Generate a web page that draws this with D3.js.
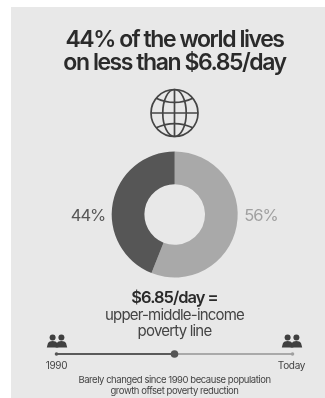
<!DOCTYPE html>
<html>
<head>
<meta charset="utf-8">
<style>
html,body{margin:0;padding:0;background:#fff;}
svg{display:block;}
text{font-family:Inter,"Liberation Sans",sans-serif;text-anchor:middle;}
</style>
<script src="https://cdn.jsdelivr.net/npm/d3@7"></script>
</head>
<body>
<svg id="chart" width="325" height="398"></svg>
<script>
// Share of world population on either side of the poverty line
const shareLabels = ["56%", "44%"];
const shareValues = [56, 44];
const shareColors = ["#a9a9a9", "#575757"];

const titleLines = ["44% of the world lives", "on less than $6.85/day"];
const lineCaption = ["upper-middle-income", "poverty line"];
const footnoteLines = ["Barely changed since 1990 because population", "growth offset poverty reduction"];
const timelineStops = [0, 0.5, 1];
const timelineLabels = ["1990", "", "Today"];

const svg = d3.select("#chart");
const defs = svg.append("defs");
defs.append("filter").attr("id", "soft").append("feGaussianBlur").attr("stdDeviation", 0.45);

svg.append("rect").attr("x", 11).attr("y", 7).attr("width", 314).attr("height", 391).attr("fill", "#e8e8e8");
const root = svg.append("g").attr("filter", "url(#soft)");

// Headline
root.selectAll("text.title").data(titleLines).join("text").attr("class", "title")
  .attr("x", 174.5).attr("y", (d, i) => 46.5 + i * 23.5)
  .attr("font-size", 23).attr("font-weight", 600).attr("letter-spacing", -1.45)
  .attr("fill", "#2b2b2b").text(d => d);

// Globe icon
const globe = root.append("g").attr("transform", "translate(174.5,113)")
  .attr("fill", "none").attr("stroke", "#444").attr("stroke-width", 1.7);
const R = 23.5;
globe.append("circle").attr("r", R);
globe.append("ellipse").attr("rx", R * 0.5).attr("ry", R);
globe.append("line").attr("y1", -R).attr("y2", R);
globe.append("line").attr("x1", -R).attr("x2", R);
globe.append("path").attr("d", `M${-R * 0.78},${-R * 0.63} Q0,${-R * 0.27} ${R * 0.78},${-R * 0.63}`);
globe.append("path").attr("d", `M${-R * 0.78},${R * 0.63} Q0,${R * 0.27} ${R * 0.78},${R * 0.63}`);

// Donut
const cx = 174.7, cy = 214.5;
const pie = d3.pie().sort(null)(shareValues);
const arc = d3.arc().innerRadius(30.3).outerRadius(63);
root.append("g").attr("transform", `translate(${cx},${cy})`)
  .selectAll("path").data(pie).join("path")
  .attr("d", arc).attr("fill", (d, i) => shareColors[i]);

root.append("text").attr("x", 88).attr("y", 220.5).attr("font-size", 16.5).attr("letter-spacing", -1)
  .attr("fill", "#575757").text(shareLabels[1]);
root.append("text").attr("x", 261).attr("y", 220.5).attr("font-size", 16.5).attr("letter-spacing", -1)
  .attr("fill", "#a0a0a0").text(shareLabels[0]);

// Poverty line caption
root.append("text").attr("x", 174.5).attr("y", 302.5).attr("font-size", 16.5).attr("font-weight", 600)
  .attr("letter-spacing", -1).attr("fill", "#2b2b2b").text("$6.85/day =");
root.selectAll("text.cap").data(lineCaption).join("text").attr("class", "cap")
  .attr("x", 174.5).attr("y", (d, i) => 320 + i * 15.8)
  .attr("font-size", 15).attr("letter-spacing", -0.8).attr("fill", "#444").text(d => d);

// Timeline from 1990 to today
const tx = d3.scaleLinear().domain([0, 1]).range([56.5, 292.5]);
const ty = 354;
root.append("line").attr("x1", tx(0)).attr("x2", tx(0.5)).attr("y1", ty).attr("y2", ty)
  .attr("stroke", "#5a5a5a").attr("stroke-width", 2);
root.append("line").attr("x1", tx(0.5)).attr("x2", tx(1)).attr("y1", ty).attr("y2", ty)
  .attr("stroke", "#a9a9a9").attr("stroke-width", 2);
root.selectAll("circle.stop").data(timelineStops).join("circle").attr("class", "stop")
  .attr("cx", d => tx(d)).attr("cy", ty).attr("r", (d, i) => i === 1 ? 3.8 : 1.8)
  .attr("fill", (d, i) => i === 2 ? "#a0a0a0" : "#555");
root.selectAll("text.stop").data(timelineLabels).join("text").attr("class", "stop")
  .attr("x", (d, i) => i === 0 ? 56.5 : 291.5).attr("y", 368.5)
  .attr("font-size", 10).attr("letter-spacing", -0.3).attr("fill", "#444").text(d => d);

// People icons above each end of the timeline
function people(x, y) {
  const g = root.append("g").attr("transform", `translate(${x},${y})`).attr("fill", "#3f3f3f");
  [-4.4, 4.4].forEach(dx => {
    g.append("circle").attr("cx", dx).attr("cy", -3.4).attr("r", 3);
    g.append("path").attr("d", `M${dx - 5.8},6.5 L${dx - 4.6},2 Q${dx - 3.5},0 ${dx},0 Q${dx + 3.5},0 ${dx + 4.6},2 L${dx + 5.8},6.5 Z`);
  });
}
people(57, 341);
people(292, 341);

// Footnote
root.selectAll("text.note").data(footnoteLines).join("text").attr("class", "note")
  .attr("x", 174.5).attr("y", (d, i) => 382.5 + i * 11.5)
  .attr("font-size", 9.5).attr("letter-spacing", -0.45).attr("fill", "#444").text(d => d);
</script>
</body>
</html>
